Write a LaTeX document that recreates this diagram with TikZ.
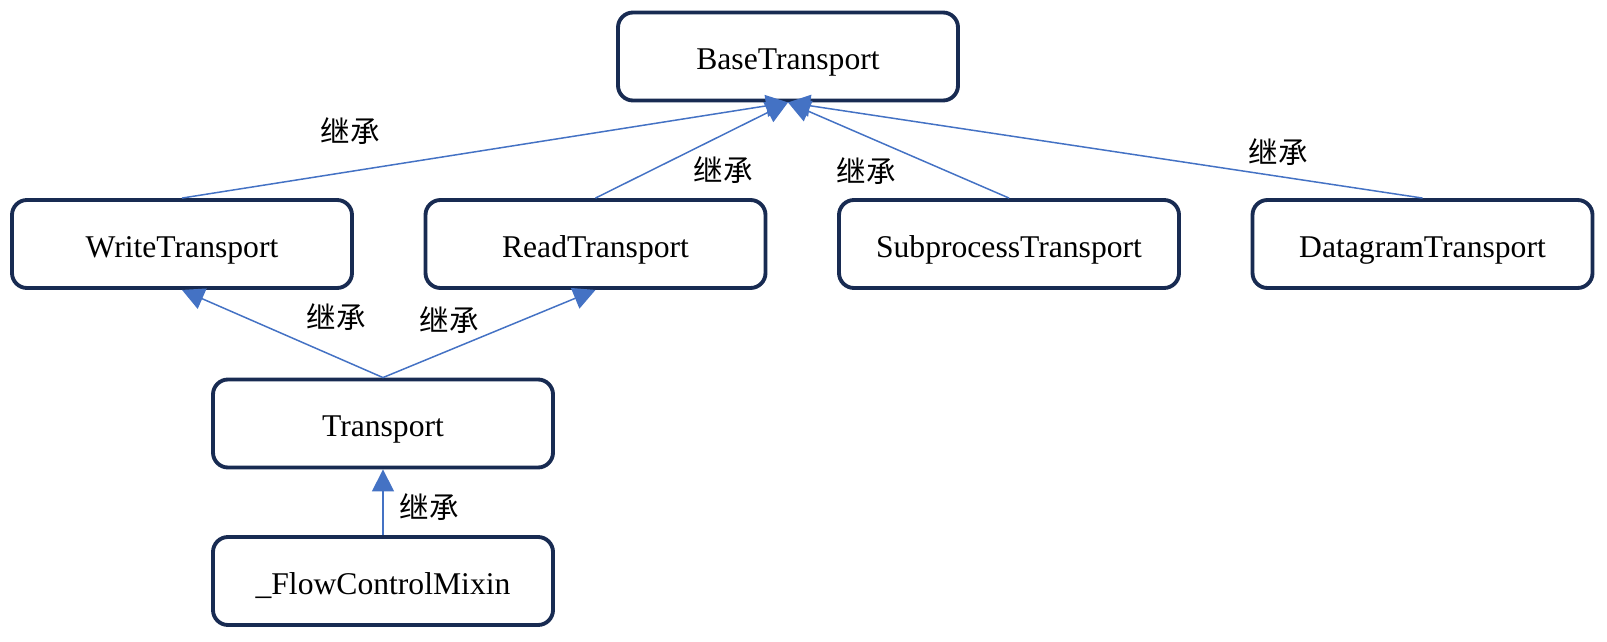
\documentclass[tikz,border=0pt]{standalone}
\usepackage{fontspec}
\setmainfont{Liberation Serif}
\newfontfamily\cjk{Noto Sans CJK SC}
\usetikzlibrary{positioning, arrows.meta}
\definecolor{boxline}{RGB}{24,43,82}
\definecolor{arrowblue}{RGB}{68,114,196}

\begin{document}
\begin{tikzpicture}[node distance=8.27cm, >={Triangle[length=0.44cm, width=0.44cm]}]
    % Stili
    \tikzstyle{classe} = [draw=boxline, line width=2.2pt, rectangle, rounded corners=0.3cm, minimum width=6.8cm, minimum height=1.76cm, text height=19pt, text depth=4pt, font=\fontsize{18}{20}\selectfont]
    \tikzstyle{eredita} = [draw=arrowblue, line width=0.85pt, ->]
    \tikzstyle{etichetta} = [font=\cjk\fontsize{16.8}{18}\selectfont, inner sep=0pt]

    \useasboundingbox (0,0) rectangle (32.14,-12.82);

    % Classi
    \node [classe] (base) at (15.76,-1.13) {BaseTransport};
    \node [classe] (write) at (3.64,-4.88) {WriteTransport};
    \node [classe, right of=write] (read) {ReadTransport};
    \node [classe, right of=read] (subproc) {SubprocessTransport};
    \node [classe, right of=subproc] (datagram) {DatagramTransport};
    \node [classe] (transport) at (7.66,-8.47) {Transport};
    \node [classe, below of=transport, node distance=3.15cm] (flow) {\_FlowControlMixin};

    % Ereditarieta
    \draw [eredita] (write.north) -- (base.south);
    \draw [eredita] (read.north) -- (base.south);
    \draw [eredita] (subproc.north) -- (base.south);
    \draw [eredita] (datagram.north) -- (base.south);
    \draw [eredita] (transport.north) -- (write.south);
    \draw [eredita] (transport.north) -- (read.south);
    \draw [eredita] (flow.north) -- (transport.south);

    % Etichette
    \node [etichetta] (lwrite) at (7.0,-2.62) {继承};
    \node [etichetta] (lread) at (14.46,-3.40) {继承};
    \node [etichetta] (lsub) at (17.32,-3.43) {继承};
    \node [etichetta] (ldata) at (25.56,-3.04) {继承};
    \node [etichetta] (ltw) at (6.72,-6.34) {继承};
    \node [etichetta] (ltr) at (8.98,-6.40) {继承};
    \node [etichetta] (lflow) at (8.58,-10.14) {继承};

\end{tikzpicture}
\end{document}
